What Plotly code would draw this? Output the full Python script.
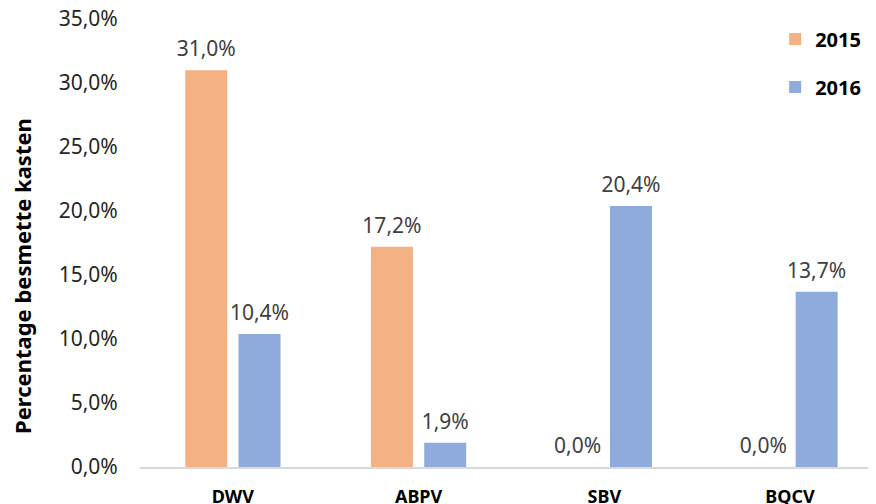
import plotly.graph_objects as go

categories = ["DWV", "ABPV", "SBV", "BQCV"]
series_names = ["2015", "2016"]
values_2015 = [0.310, 0.172, 0.000, 0.000]
values_2016 = [0.104, 0.019, 0.204, 0.137]
y_ticks = [0, 0.05, 0.10, 0.15, 0.20, 0.25, 0.30, 0.35]
y_title = "Percentage besmette kasten"

colors = ["#F4B183", "#8FAADC"]
FONT = "Noto Sans"
BARGAP = 0.426

fig = go.Figure()
for name, vals, col, grp in zip(series_names, [values_2015, values_2016], colors, ["a", "b"]):
    fig.add_trace(go.Bar(
        x=categories, y=vals, name=name, marker=dict(color=col, line=dict(width=0)),
        offsetgroup=grp, legendgroup=grp, hoverinfo="skip",
    ))
for name, vals, grp in zip(series_names, [values_2015, values_2016], ["a", "b"]):
    fig.add_trace(go.Scatter(
        x=categories, y=vals, mode="markers+text", offsetgroup=grp,
        text=[f"{v*100:.1f}%".replace(".", ",") for v in vals],
        textposition="top center",
        textfont=dict(family=FONT, size=21, color="#404040"),
        marker=dict(size=12, opacity=0),
        showlegend=False, hoverinfo="skip", cliponaxis=False,
    ))

# page body has an 8px default margin, so the figure is 8px smaller and margins reduced
fig.update_layout(
    width=868, height=496,
    margin=dict(l=132, r=0, t=11, b=37),
    paper_bgcolor="white", plot_bgcolor="white",
    separators=",.",
    barmode="group", bargap=BARGAP, bargroupgap=0.212,
    scattermode="group", scattergap=BARGAP,
    font=dict(family=FONT, color="#262626"),
    showlegend=True,
    legend=dict(
        x=0.863, y=0.999, xanchor="left", yanchor="top",
        font=dict(family=FONT, size=20, color="black", weight="bold"),
        tracegroupgap=19, bgcolor="rgba(0,0,0,0)",
    ),
    xaxis=dict(
        type="category", range=[-0.5, 3.463], automargin=False,
        showline=True, linecolor="#D9D9D9", linewidth=2,
        showgrid=False, ticks="outside", ticklen=12, tickcolor="rgba(0,0,0,0)",
        tickfont=dict(family=FONT, size=18, color="black", weight="bold"),
    ),
    yaxis=dict(
        range=[0, 0.35], tickvals=y_ticks, tickformat=".1%", automargin=False,
        showline=False, showgrid=False, zeroline=False,
        ticks="outside", ticklen=17, tickcolor="rgba(0,0,0,0)",
        ticklabeloverflow="allow",
        tickfont=dict(family=FONT, size=21, color="#262626"),
    ),
    annotations=[dict(
        text=y_title, xref="paper", yref="paper", x=-0.1603, y=0.4263,
        xanchor="center", yanchor="middle", textangle=-90, showarrow=False,
        font=dict(family=FONT, size=22, color="black", weight="bold"),
    )],
)

fig.write_html("out.html")
